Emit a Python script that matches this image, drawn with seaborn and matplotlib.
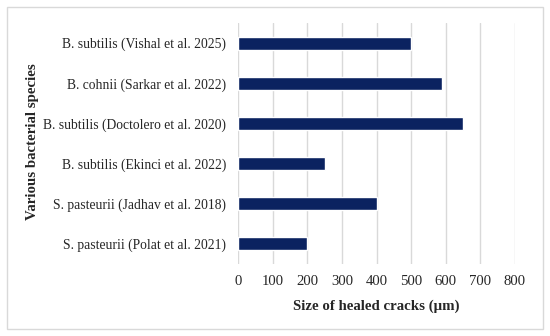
import matplotlib
matplotlib.use("Agg")
import matplotlib.pyplot as plt
import seaborn as sns
import pandas as pd
from matplotlib.patches import Rectangle

categories = [
    "B. subtilis (Vishal et al. 2025)",
    "B. cohnii (Sarkar et al. 2022)",
    "B. subtilis (Doctolero et al. 2020)",
    "B. subtilis (Ekinci et al. 2022)",
    "S. pasteurii (Jadhav et al. 2018)",
    "S. pasteurii (Polat et al. 2021)",
]
values = [500, 590, 650, 250, 400, 200]
xticks = [0, 100, 200, 300, 400, 500, 600, 700, 800]

sns.set_style("white")
plt.rcParams["font.family"] = ["Liberation Serif", "DejaVu Serif"]

df = pd.DataFrame({"species": categories, "size": values})

fig = plt.figure(figsize=(5.5, 3.36), dpi=100)
ax = fig.add_axes([238 / 550, 1 - 264 / 336, (515 - 238) / 550, (264 - 23) / 336])

sns.barplot(data=df, x="size", y="species", color="#0b2260", width=0.32,
            saturation=1, ax=ax, zorder=3)

ax.set_xlim(0, 800)
ax.set_xticks(xticks)
ax.set_xticklabels([str(t) for t in xticks], fontsize=10.6, color="#262626")
ax.tick_params(axis="y", labelsize=9.8, labelcolor="#262626", length=0, pad=8.5)
ax.tick_params(axis="x", length=0, pad=8)
ax.grid(axis="x", color="#d9d9d9", linewidth=1, zorder=0)
for s in ax.spines.values():
    s.set_visible(False)

ax.set_xlabel("Size of healed cracks (μm)", fontsize=10.7, fontweight="bold", labelpad=8)
ax.set_ylabel("Various bacterial species", fontsize=10.7, fontweight="bold")
ax.yaxis.set_label_coords(-0.718, 0.506)

fig.patches.append(Rectangle((7 / 550, 1 - 329 / 336), 536 / 550, 322 / 336,
                             transform=fig.transFigure, fill=False,
                             edgecolor="#d9d9d9", linewidth=1))

fig.savefig("out.png", dpi=100)
